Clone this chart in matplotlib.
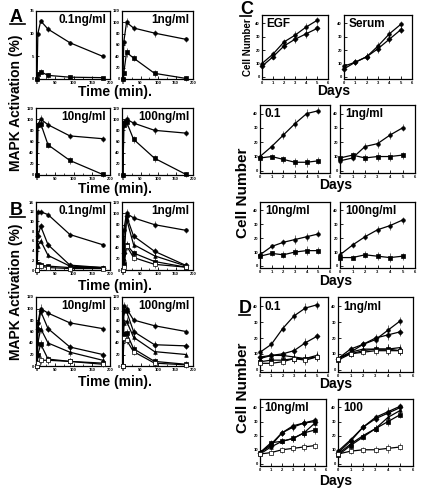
import matplotlib
matplotlib.use("Agg")
import matplotlib.pyplot as plt
from matplotlib.lines import Line2D

plt.rcParams["font.family"] = ["Liberation Sans", "DejaVu Sans"]
plt.rcParams["font.weight"] = "bold"

W, H = 429, 499

# ---- data -----------------------------------------------------------------
t_min = [0, 2, 10, 30, 90, 180]
days = [0, 1, 2, 3, 4, 5]

# panel A: two series per dose (upper = circles, lower = squares)
a_01_hi = [0, 10, 12.8, 11, 8, 5]
a_01_lo = [0, 1, 1.6, 0.8, 0.4, 0.3]
a_1_hi = [0, 65, 100, 90, 81, 70]
a_1_lo = [0, 10, 47, 37, 10, 1]
a_10_hi = [0, 90, 100, 90, 70, 65]
a_10_lo = [0, 90, 92, 54, 26, 1]
a_100_hi = [0, 95, 100, 93, 80, 75]
a_100_lo = [0, 90, 95, 64, 30, 1]
a_err_small = [0, 0.6, 0.5, 0.6, 0.4, 0.2]
a_err = [0, 5, 8, 6, 6, 5]

# panel B: five series per dose
b_01 = [[0, 12, 12, 11.4, 7.3, 5.2],
        [0, 7, 9, 5.2, 1, 0.5],
        [0, 5, 6, 3, 0.8, 0.5],
        [0, 1.2, 1, 0.8, 0.5, 0.5],
        [0, 0.8, 0.8, 0.5, 0.3, 0.3]]
b_1 = [[0, 70, 100, 92, 80, 70],
       [0, 30, 95, 60, 33, 8],
       [0, 20, 90, 45, 25, 7],
       [0, 10, 45, 30, 15, 5],
       [0, 5, 43, 22, 10, 5]]
b_10 = [[0, 75, 100, 92, 75, 65],
        [0, 65, 95, 65, 33, 20],
        [0, 40, 65, 40, 24, 10],
        [0, 20, 38, 12, 8, 5],
        [0, 5, 10, 10, 8, 3]]
b_100 = [[0, 105, 100, 80, 70, 60],
         [0, 95, 95, 60, 37, 35],
         [0, 75, 78, 50, 25, 20],
         [0, 55, 58, 30, 8, 3],
         [0, 48, 45, 25, 5, 2]]
b_err_small = [0, 0.5, 0.6, 0.5, 0.5, 0.4]
b_err = [0, 6, 7, 6, 6, 5]

# panel C: growth curves, two series per condition
c_egf = [[10, 17, 26, 31, 37, 42], [8, 15, 23, 28, 32, 36]]
c_serum = [[8, 11, 15, 23, 32, 39], [6, 11, 15, 21, 28, 35]]
c_01 = [[10, 17, 25, 33, 40, 42], [9, 10, 8, 6, 6, 7]]
c_1 = [[7, 9, 17, 19, 25, 30], [9, 11, 9, 10, 10, 11]]
c_10 = [[8, 14, 17, 19, 21, 23], [7, 9, 8, 10, 11, 11]]
c_100 = [[8, 15, 21, 26, 29, 33], [6, 6, 8, 7, 6, 7]]
c_err = [1, 2, 2.5, 3, 3, 2.5]

# panel D: five series per dose
d_01 = [[11, 16, 26, 34, 39, 41],
        [8, 9, 10, 12, 17, 21],
        [7, 9, 9, 8, 7, 9],
        [5, 6, 6, 7, 7, 8],
        [4, 4, 5, 7, 6, 8]]
d_1 = [[7, 11, 16, 19, 25, 31],
       [7, 13, 16, 20, 22, 24],
       [7, 11, 13, 13, 13, 14],
       [6, 10, 12, 13, 13, 12],
       [7, 10, 11, 12, 12, 12]]
d_10 = [[8, 14, 22, 27, 29, 31],
        [8, 13, 22, 26, 29, 30],
        [7, 12, 16, 18, 22, 29],
        [8, 15, 16, 18, 22, 24],
        [7, 8, 10, 11, 12, 13]]
d_100 = [[9, 17, 26, 33, 37, 41],
         [8, 16, 26, 32, 36, 40],
         [7, 14, 20, 25, 33, 38],
         [6, 13, 19, 25, 30, 35],
         [7, 9, 10, 10, 11, 12]]
d_err = [1, 2, 2, 2.5, 3, 2.5]

markers2 = ["o", "s"]
markers5 = ["o", "D", "^", "s", "s"]
faces5 = ["k", "k", "k", "k", "w"]


def ax_px(fig, x0, y0, x1, y1):
    return fig.add_axes([x0 / W, 1 - y1 / H, (x1 - x0) / W, (y1 - y0) / H])


def style(ax, xlim, xticks, ylim, yticks, minor=None):
    ax.set_xlim(*xlim)
    ax.set_ylim(*ylim)
    ax.set_xticks(xticks)
    ax.set_yticks(yticks)
    if minor is not None:
        ax.set_xticks(minor, minor=True)
    ax.tick_params(direction="in", length=2, width=0.6, labelsize=3, pad=1.5)
    ax.tick_params(which="minor", direction="in", length=1.5, width=0.5)
    for s in ax.spines.values():
        s.set_linewidth(0.9)


def draw(ax, x, series, err, markers, faces, ms=2.6):
    for i, y in enumerate(series):
        ax.errorbar(x, y, yerr=err, color="k", lw=0.9, elinewidth=0.4,
                    capsize=0, marker=markers[i], ms=ms, mfc=faces[i],
                    mec="k", mew=0.5, clip_on=False, zorder=3)


def label_in(ax, txt, right=True, size=8.5):
    if right:
        ax.text(0.95, 0.95, txt, transform=ax.transAxes, ha="right",
                va="top", fontsize=size, fontweight="bold")
    else:
        ax.text(0.07, 0.95, txt, transform=ax.transAxes, ha="left",
                va="top", fontsize=size, fontweight="bold")


def letter(fig, txt, x, y, w):
    fig.text(x / W, 1 - y / H, txt, fontsize=13, fontweight="bold",
             ha="left", va="baseline")
    fig.add_artist(Line2D([x / W, (x + w) / W], [1 - (y + 2) / H] * 2,
                          color="k", lw=1.2))


def ftext(fig, txt, x, y, size=10, rot=0):
    fig.text(x / W, 1 - y / H, txt, fontsize=size, fontweight="bold",
             ha="center", va="center", rotation=rot)


fig = plt.figure(figsize=(W / 100, H / 100), dpi=100)

tx = (-3, 200)
tt = [0, 50, 100, 150, 200]
tm = [25, 75, 125, 175]
y120 = (0, 120)
t120 = [0, 20, 40, 60, 80, 100, 120]

# ---- panel A --------------------------------------------------------------
ax = ax_px(fig, 36, 11, 110, 79)
style(ax, tx, tt, (0, 15), [0, 5, 10, 15], tm)
draw(ax, t_min, [a_01_hi, a_01_lo], a_err_small, markers2, ["k", "k"])
label_in(ax, "0.1ng/ml")

ax = ax_px(fig, 122, 11, 193, 79)
style(ax, tx, tt, y120, t120, tm)
draw(ax, t_min, [a_1_hi, a_1_lo], a_err, markers2, ["k", "k"])
label_in(ax, "1ng/ml")

ax = ax_px(fig, 36, 108, 110, 175)
style(ax, tx, tt, y120, t120, tm)
draw(ax, t_min, [a_10_hi, a_10_lo], a_err, markers2, ["k", "k"])
label_in(ax, "10ng/ml")

ax = ax_px(fig, 122, 108, 193, 175)
style(ax, tx, tt, y120, t120, tm)
draw(ax, t_min, [a_100_hi, a_100_lo], a_err, markers2, ["k", "k"])
label_in(ax, "100ng/ml")

ftext(fig, "Time (min).", 115, 92)
ftext(fig, "Time (min).", 115, 189)
ftext(fig, "MAPK Activation (%)", 16, 103, rot=90)
letter(fig, "A", 10, 22, 15)

# ---- panel B --------------------------------------------------------------
ax = ax_px(fig, 36, 202, 110, 270)
style(ax, tx, tt, (0, 14), [0, 2, 4, 6, 8, 10, 12, 14], tm)
draw(ax, t_min, b_01, b_err_small, markers5, faces5)
label_in(ax, "0.1ng/ml")

ax = ax_px(fig, 122, 202, 193, 270)
style(ax, tx, tt, y120, t120, tm)
draw(ax, t_min, b_1, b_err, markers5, faces5)
label_in(ax, "1ng/ml")

ax = ax_px(fig, 36, 297, 110, 366)
style(ax, tx, tt, y120, t120, tm)
draw(ax, t_min, b_10, b_err, markers5, faces5)
label_in(ax, "10ng/ml")

ax = ax_px(fig, 122, 297, 193, 366)
style(ax, tx, tt, y120, t120, tm)
draw(ax, t_min, b_100, b_err, markers5, faces5)
label_in(ax, "100ng/ml")

ftext(fig, "Time (min).", 115, 286)
ftext(fig, "Time (min).", 115, 382)
ftext(fig, "MAPK Activation (%)", 16, 292, rot=90)
letter(fig, "B", 10, 215, 15)

# ---- panel C --------------------------------------------------------------
dx = (0, 6)
dt = [0, 1, 2, 3, 4, 5, 6]
cy = (-1.5, 46)
ct = [0, 10, 20, 30, 40]

ax = ax_px(fig, 262, 15, 328, 79)
style(ax, dx, dt, cy, ct)
draw(ax, days, c_egf, c_err, ["o", "D"], ["k", "k"])
label_in(ax, "EGF", right=False)

ax = ax_px(fig, 344, 15, 412, 79)
style(ax, dx, dt, cy, ct)
draw(ax, days, c_serum, c_err, ["o", "D"], ["k", "k"])
label_in(ax, "Serum", right=False)

ax = ax_px(fig, 260, 105, 330, 173)
style(ax, dx, dt, cy, ct)
draw(ax, days, c_01, c_err, ["o", "s"], ["k", "k"])
label_in(ax, "0.1", right=False)

ax = ax_px(fig, 340, 105, 415, 173)
style(ax, dx, dt, cy, ct)
draw(ax, days, c_1, c_err, ["o", "s"], ["k", "k"])
label_in(ax, "1ng/ml", right=False)

ax = ax_px(fig, 260, 202, 330, 268)
style(ax, dx, dt, cy, ct)
draw(ax, days, c_10, c_err, ["o", "s"], ["k", "k"])
label_in(ax, "10ng/ml", right=False)

ax = ax_px(fig, 340, 202, 415, 268)
style(ax, dx, dt, cy, ct)
draw(ax, days, c_100, c_err, ["o", "s"], ["k", "k"])
label_in(ax, "100ng/ml", right=False)

ftext(fig, "Cell Number", 248, 47, size=7, rot=90)
ftext(fig, "Days", 334, 91)
ftext(fig, "Days", 336, 185)
ftext(fig, "Days", 336, 281)
ftext(fig, "Cell Number", 243, 193, size=11, rot=90)
letter(fig, "C", 240, 14, 11)

# ---- panel D --------------------------------------------------------------
ax = ax_px(fig, 260, 297, 328, 372)
style(ax, dx, dt, cy, ct)
draw(ax, days, d_01, d_err, markers5, faces5)
label_in(ax, "0.1", right=False)

ax = ax_px(fig, 338, 297, 413, 372)
style(ax, dx, dt, cy, ct)
draw(ax, days, d_1, d_err, markers5, faces5)
label_in(ax, "1ng/ml", right=False)

ax = ax_px(fig, 260, 399, 326, 466)
style(ax, dx, dt, cy, ct)
draw(ax, days, d_10, d_err, markers5, faces5)
label_in(ax, "10ng/ml", right=False)

ax = ax_px(fig, 338, 399, 413, 466)
style(ax, dx, dt, cy, ct)
draw(ax, days, d_100, d_err, markers5, faces5)
label_in(ax, "100", right=False)

ftext(fig, "Days", 336, 384)
ftext(fig, "Days", 336, 481)
ftext(fig, "Cell Number", 243, 388, size=11, rot=90)
letter(fig, "D", 239, 313, 11)

fig.savefig("out.png", dpi=100)
